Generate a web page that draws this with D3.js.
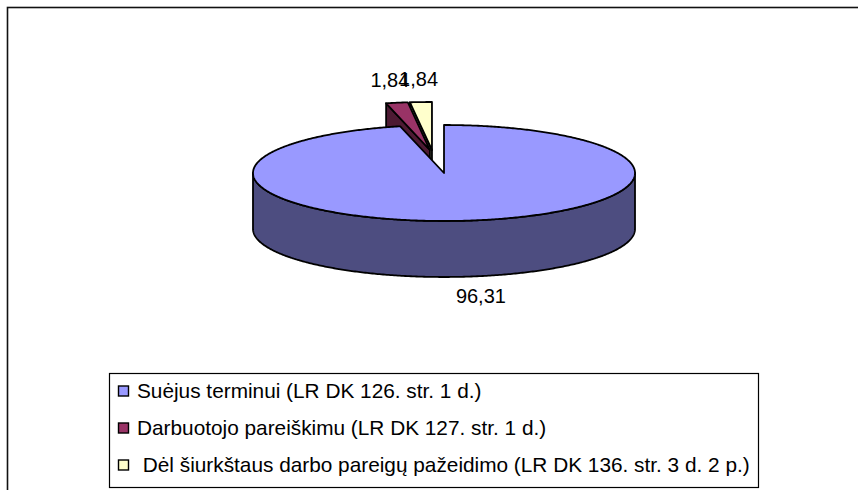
<!DOCTYPE html>
<html>
<head>
<meta charset="utf-8">
<script src="https://cdn.jsdelivr.net/npm/d3@7"></script>
<style>
  html, body { margin: 0; padding: 0; background: #fff; }
  svg { display: block; font-family: "Liberation Sans", Arial, sans-serif; }
</style>
</head>
<body>
<svg id="chart" width="858" height="490"></svg>
<script>
const categories = [
  "Suėjus terminui (LR DK 126. str. 1 d.)",
  "Darbuotojo pareiškimu (LR DK 127. str. 1 d.)",
  " Dėl šiurkštaus darbo pareigų pažeidimo (LR DK 136. str. 3 d. 2 p.)"
];
const values = [96.31, 1.84, 1.84];
const valueLabels = ["96,31", "1,84", "1,84"];
const topColors = ["#9999ff", "#993366", "#ffffcc"];
const sideColors = ["#4d4d80", "#4d1a33", "#99997a"];
const pulled = [0, 1, 1];

const svg = d3.select("#chart");
const W = 858, H = 490;

// chart area frame (runs off the right and bottom)
svg.append("rect")
  .attr("x", 7.5).attr("y", 7.5)
  .attr("width", W).attr("height", H)
  .attr("fill", "none")
  .attr("stroke", "#111")
  .attr("stroke-width", 1.6);

// pie geometry
const cx = 444, cy = 173, rx = 191, ry = 48, depth = 56;

const color = d3.scaleOrdinal().domain(d3.range(values.length)).range(topColors);
const side = d3.scaleOrdinal().domain(d3.range(values.length)).range(sideColors);

const pie = d3.pie().sort(null).value(d => d);
const slices = pie(values).map((d, i) => {
  const mid = (d.startAngle + d.endAngle) / 2;
  return {
    ...d, i, mid,
    ox: pulled[i] ? -11 + 18 * Math.sin(mid) : 0,
    oy: pulled[i] ? -23 : 0
  };
});

const pt = (a, s, dz = 0) => [cx + s.ox + rx * Math.sin(a), cy + s.oy - ry * Math.cos(a) + dz];
function rim(a0, a1, s, dz = 0) {
  const n = Math.max(2, Math.ceil(Math.abs(a1 - a0) / 0.01));
  return d3.range(n + 1).map(k => pt(a0 + (a1 - a0) * k / n, s, dz));
}
const line = d3.line();
const centre = (s, dz = 0) => [cx + s.ox, cy + s.oy + dz];

// back slices first
const order = slices.slice().sort((a, b) => Math.cos(b.mid) - Math.cos(a.mid));

const g = svg.append("g")
  .attr("stroke", "#000")
  .attr("stroke-width", 1.8)
  .attr("stroke-linejoin", "round");

order.forEach(s => {
  const a0 = s.startAngle, a1 = s.endAngle;
  // cut faces, only when turned towards the viewer
  if (Math.sin(a0) < -1e-6) {
    g.append("path")
      .attr("d", line([centre(s), pt(a0, s), pt(a0, s, depth), centre(s, depth)]) + "Z")
      .attr("fill", side(s.i));
  }
  if (Math.sin(a1) > 1e-6) {
    g.append("path")
      .attr("d", line([centre(s), pt(a1, s), pt(a1, s, depth), centre(s, depth)]) + "Z")
      .attr("fill", side(s.i));
  }
  // outer wall (front half only)
  const w0 = Math.max(a0, Math.PI / 2), w1 = Math.min(a1, 3 * Math.PI / 2);
  if (w1 > w0) {
    g.append("path")
      .attr("d", line(rim(w0, w1, s).concat(rim(w1, w0, s, depth))) + "Z")
      .attr("fill", side(s.i));
  }
  // top face
  g.append("path")
    .attr("d", line([centre(s)].concat(rim(a0, a1, s))) + "Z")
    .attr("fill", color(s.i));
});

// value labels (the two small ones overlap, as in the original)
const ly = 71;
svg.append("g")
  .selectAll("text")
  .data(slices)
  .join("text")
  .attr("x", s => cx + s.ox + (s.ox ? 232 : 320) * Math.sin(s.mid))
  .attr("y", s => cy + s.oy - ly * Math.cos(s.mid) + (Math.cos(s.mid) < 0 ? 52 : 0))
  .attr("dy", "0.35em")
  .attr("text-anchor", "middle")
  .attr("font-size", 20)
  .attr("fill", "#000")
  .text((s, i) => valueLabels[i]);

// legend
const legend = svg.append("g");
legend.append("rect")
  .attr("x", 109.5).attr("y", 373.5)
  .attr("width", 649).attr("height", 114)
  .attr("fill", "#fff")
  .attr("stroke", "#000")
  .attr("stroke-width", 1.2);

const rowY = d3.scalePoint().domain(d3.range(categories.length)).range([391, 465]);
const item = legend.selectAll("g.item")
  .data(categories)
  .join("g")
  .attr("class", "item")
  .attr("transform", (d, i) => `translate(0,${rowY(i)})`);

item.append("rect")
  .attr("x", 118.5).attr("y", -5)
  .attr("width", 10).attr("height", 10)
  .attr("fill", (d, i) => color(i))
  .attr("stroke", "#000")
  .attr("stroke-width", 1.4);

item.append("text")
  .attr("x", 137)
  .attr("dy", "0.35em")
  .attr("font-size", 20.8)
  .attr("xml:space", "preserve")
  .style("white-space", "pre")
  .text(d => d);
</script>
</body>
</html>
